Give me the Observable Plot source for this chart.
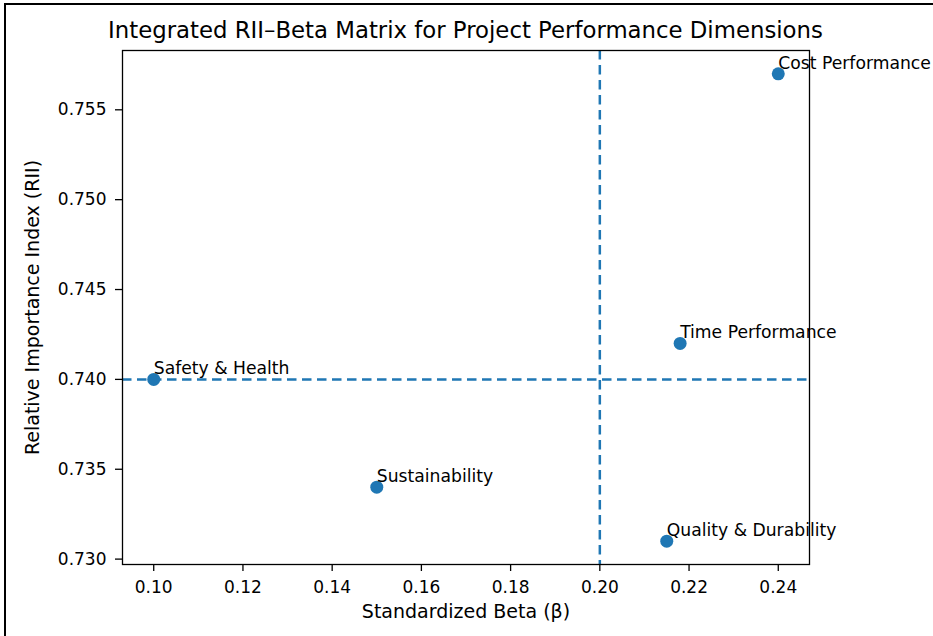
<!DOCTYPE html>
<html>
<head>
<meta charset="utf-8">
<script src="https://cdn.jsdelivr.net/npm/d3@7"></script>
<script src="https://cdn.jsdelivr.net/npm/@observablehq/plot@0.6"></script>
<style>
  html, body { margin: 0; padding: 0; background: #fff; }
  #wrap { position: relative; width: 933px; height: 636px; overflow: hidden; font-family: "DejaVu Sans", sans-serif; }
  #border { position: absolute; left: 4px; top: 3px; width: 935px; height: 640px; border-top: 2px solid #000; border-left: 2px solid #000; pointer-events: none; }
  #title { position: absolute; left: 22px; width: 887px; top: 17px; line-height: 26px; font-size: 22.8px; text-align: center; color: #000; white-space: nowrap; }
  #chart { position: absolute; left: 0; top: 44px; }
</style>
</head>
<body>
<div id="wrap">
  <div id="title">Integrated RII–Beta Matrix for Project Performance Dimensions</div>
  <div id="chart"></div>
  <div id="border"></div>
</div>
<script>
const dimensions = ["Cost Performance", "Time Performance", "Safety & Health", "Sustainability", "Quality & Durability"];
const betaValues = [0.24, 0.218, 0.10, 0.15, 0.215];
const riiValues = [0.757, 0.742, 0.740, 0.734, 0.731];
const xTickValues = [0.10, 0.12, 0.14, 0.16, 0.18, 0.20, 0.22, 0.24];
const yTickValues = [0.730, 0.735, 0.740, 0.745, 0.750, 0.755];
const betaThreshold = [0.20];
const riiThreshold = [0.74];

const data = dimensions.map((name, i) => ({name, beta: betaValues[i], rii: riiValues[i]}));
const blue = "#1f77b4";

const chart = Plot.plot({
  width: 933,
  height: 592,
  marginTop: 6,
  marginBottom: 72,
  marginLeft: 122,
  marginRight: 124,
  style: {fontFamily: "DejaVu Sans", fontSize: "17px", color: "#000", background: "#fff", overflow: "visible"},
  x: {domain: [0.093, 0.247]},
  y: {domain: [0.7297, 0.7583]},
  marks: [
    Plot.ruleY(riiThreshold, {stroke: blue, strokeWidth: 2.5, strokeDasharray: "9.5,5.5"}),
    Plot.ruleX(betaThreshold, {stroke: blue, strokeWidth: 2.5, strokeDasharray: "9.5,5.5"}),
    Plot.frame({stroke: "#000", strokeWidth: 1.3}),
    Plot.axisX({ticks: xTickValues, tickFormat: d3.format(".2f"), tickSize: 7, tickPadding: 9, strokeWidth: 1.3, fontSize: 17, label: null}),
    Plot.axisX({ticks: [], label: "Standardized Beta (β)", labelAnchor: "center", labelArrow: "none", labelOffset: 53, fontSize: 19}),
    Plot.axisY({ticks: yTickValues, tickFormat: d3.format(".3f"), tickSize: 7, tickPadding: 9, strokeWidth: 1.3, fontSize: 17, label: null}),
    Plot.axisY({ticks: [], label: "Relative Importance Index (RII)", labelAnchor: "center", labelArrow: "none", labelOffset: 97, fontSize: 19}),
    Plot.dot(data, {x: "beta", y: "rii", r: 6.5, fill: blue, stroke: null}),
    Plot.text(data, {x: "beta", y: "rii", text: "name", textAnchor: "start", lineAnchor: "bottom", dy: -5, fontSize: 17.2, fill: "#000"})
  ]
});
document.getElementById("chart").appendChild(chart);
</script>
</body>
</html>
